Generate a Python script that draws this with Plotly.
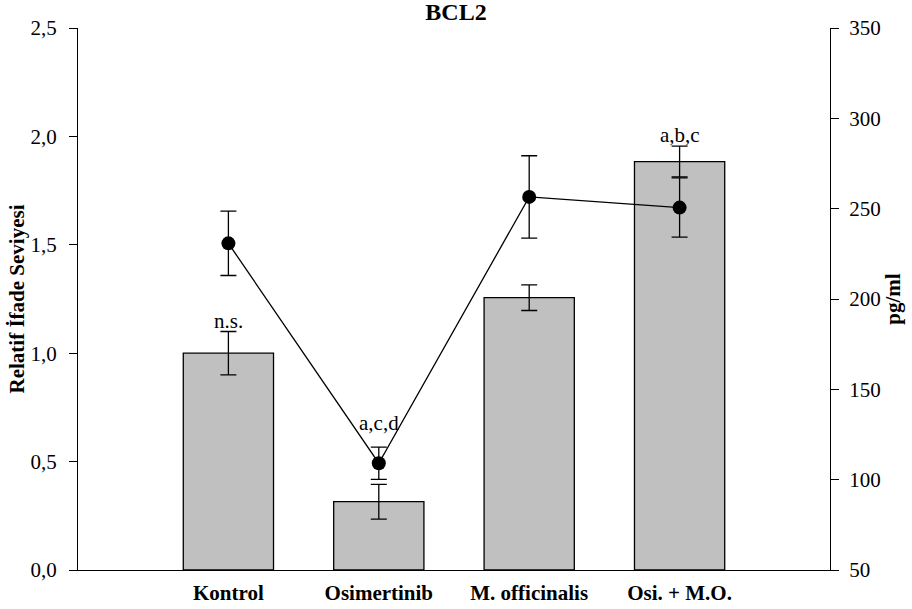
import plotly.graph_objects as go

categories = ["Kontrol", "Osimertinib", "M. officinalis", "Osi. + M.O."]
expr_values = [1.00, 0.315, 1.256, 1.884]
expr_err = [0.10, 0.08, 0.059, 0.071]
pgml_values = [230.8, 109.1, 256.5, 250.6]
pgml_err = [17.8, 8.9, 22.8, 16.4]
bar_labels = ["n.s.", "", "", "a,b,c"]
line_labels = ["", "a,c,d", "", ""]
left_ticks = [0, 0.5, 1.0, 1.5, 2.0, 2.5]
right_ticks = [50, 100, 150, 200, 250, 300, 350]

FONT = "Liberation Serif"
xs = list(range(len(categories)))

fig = go.Figure()
fig.add_trace(go.Bar(
    x=xs, y=expr_values, width=0.6,
    marker=dict(color="#c0c0c0", line=dict(color="black", width=1.3)),
    error_y=dict(type="data", array=expr_err, color="black", thickness=1.3, width=8),
    showlegend=False,
))
fig.add_trace(go.Scatter(
    x=xs, y=pgml_values, yaxis="y2", mode="lines+markers",
    line=dict(color="black", width=1.3),
    marker=dict(color="black", size=14),
    error_y=dict(type="data", array=pgml_err, color="black", thickness=1.3, width=8),
    showlegend=False,
))

for i, t in enumerate(bar_labels):
    if t:
        fig.add_annotation(x=xs[i], y=expr_values[i] + expr_err[i], yref="y", text=t,
                           showarrow=False, yanchor="bottom", yshift=-3,
                           font=dict(family=FONT, size=21, color="black"))
for i, t in enumerate(line_labels):
    if t:
        fig.add_annotation(x=xs[i], y=pgml_values[i] + pgml_err[i], yref="y2", text=t,
                           showarrow=False, yanchor="bottom", yshift=10,
                           font=dict(family=FONT, size=21, color="black"))

fig.update_layout(
    width=912, height=609,
    margin=dict(l=78, r=82, t=28, b=39),
    paper_bgcolor="white", plot_bgcolor="white",
    separators=",.",
    font=dict(family=FONT, size=21, color="black"),
    title=dict(text="<b>BCL2</b>", x=0.5, xanchor="center", y=0.995, yanchor="top",
               font=dict(family=FONT, size=24, color="black")),
    xaxis=dict(range=[-1, 4], tickvals=xs, ticktext=["<b>%s</b>" % c for c in categories],
               showline=True, linecolor="black", linewidth=1.3, ticks="", showgrid=False,
               zeroline=False, automargin=False, ticklabelstandoff=4,
               tickfont=dict(family=FONT, size=21)),
    yaxis=dict(range=[0, 2.5], tickvals=left_ticks, tickformat=".1f",
               showline=True, linecolor="black", linewidth=1.3, ticks="outside",
               ticklen=8, tickcolor="black", tickwidth=1.3, showgrid=False, zeroline=False,
               ticklabelstandoff=8, automargin=False,
               title=dict(text="<b>Relatif İfade Seviyesi</b>", standoff=0,
                          font=dict(family=FONT, size=21)),
               tickfont=dict(family=FONT, size=21)),
    yaxis2=dict(range=[50, 350], tickvals=right_ticks, overlaying="y", side="right",
                showline=True, linecolor="black", linewidth=1.3, ticks="outside",
                ticklen=8, tickcolor="black", tickwidth=1.3, showgrid=False, zeroline=False,
                ticklabelstandoff=6, automargin=False,
                title=dict(text="<b>pg/ml</b>", standoff=5, font=dict(family=FONT, size=21)),
                tickfont=dict(family=FONT, size=21)),
)

fig.write_html("out.html")
